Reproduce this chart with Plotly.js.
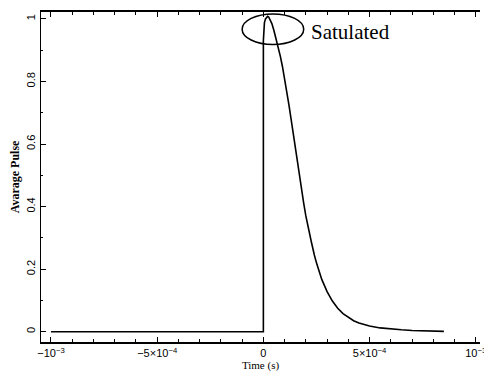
<!DOCTYPE html>
<html><head><meta charset="utf-8">
<script src="https://cdn.plot.ly/plotly-3.0.1.min.js"></script>
<style>html,body{margin:0;padding:0;background:#fff}#c{width:484px;height:373px}</style>
</head><body><div id="c"></div>
<script>
var timeS = [-1e-3, 0, 0, 0.000002, 0.000005, 0.00001, 0.000015, 0.00002, 0.000025, 0.00003, 0.00004, 0.00005, 0.00006, 0.00007, 0.00008, 0.00009, 0.0001, 0.00011, 0.00012, 0.00013, 0.00014, 0.00015, 0.00016, 0.00017, 0.00018, 0.00019, 0.0002, 0.00021, 0.000225, 0.00024, 0.00025, 0.000275, 0.0003, 0.000325, 0.00035, 0.000375, 0.0004, 0.000425, 0.00045, 0.000475, 0.0005, 0.00055, 0.0006, 0.00065, 0.0007, 0.00077, 0.00085];
var avgPulse = [0, 0, 0.93, 0.965, 0.988, 1.0, 1.006, 1.008, 1.006, 1.0, 0.985, 0.962, 0.937, 0.91, 0.88, 0.847, 0.81, 0.77, 0.727, 0.682, 0.635, 0.585, 0.535, 0.49, 0.45, 0.41, 0.37, 0.335, 0.29, 0.245, 0.22, 0.167, 0.128, 0.098, 0.075, 0.058, 0.045, 0.035, 0.028, 0.022, 0.018, 0.012, 0.008, 0.006, 0.004, 0.002, 0.001];
var xTickVals = [-1e-3, -5e-4, 0, 5e-4, 1e-3];
var xTickText = ['−10<sup>−3</sup>', '−5×10<sup>−4</sup>', '0', '5×10<sup>−4</sup>', '10<sup>−3</sup>'];
var yTickVals = [0, 0.2, 0.4, 0.6, 0.8, 1];
var yTickText = ['0', '0.2', '0.4', '0.6', '0.8', '1'];

var serif = '"Liberation Serif", "Times New Roman", serif';
var sans = '"Liberation Sans", Arial, sans-serif';

Plotly.newPlot('c', [{
  x: timeS, y: avgPulse, type: 'scatter', mode: 'lines',
  line: {color: '#000', width: 1.6}, hoverinfo: 'skip'
}], {
  width: 484, height: 373,
  margin: {l: 41, r: 4, t: 12, b: 31},
  paper_bgcolor: '#fff', plot_bgcolor: '#fff',
  showlegend: false,
  font: {family: sans, size: 11, color: '#000'},
  xaxis: {
    range: [-1.047e-3, 1.02e-3], showgrid: false, zeroline: false,
    showline: true, linecolor: '#000', linewidth: 2, mirror: 'ticks',
    ticks: 'inside', ticklen: 5, tickwidth: 1, tickcolor: '#000',
    tickvals: xTickVals, ticktext: xTickText, ticklabeloverflow: 'allow',
    minor: {dtick: 1e-4, tick0: 0, ticks: 'inside', ticklen: 3, tickcolor: '#000'},
    tickfont: {size: 11, family: sans},
    title: {text: 'Time (s)', font: {size: 11, family: serif}, standoff: 2}
  },
  yaxis: {
    range: [-0.033, 1.022], showgrid: false, zeroline: false,
    showline: true, linecolor: '#000', linewidth: 1.5,
    ticks: 'inside', ticklen: 5, tickwidth: 1, tickcolor: '#000',
    tickvals: yTickVals, ticktext: yTickText, tickangle: -90,
    minor: {dtick: 0.1, tick0: 0, ticks: 'inside', ticklen: 2, tickcolor: '#000'},
    tickfont: {size: 11, family: sans},
    title: {text: '<b>Avarage Pulse</b>', font: {size: 12, family: serif}, standoff: 3}
  },
  shapes: [{
    type: 'circle', xref: 'x', yref: 'y',
    x0: -1.0e-4, x1: 1.9e-4, y0: 0.918, y1: 1.016,
    line: {color: '#000', width: 1.5}
  }],
  annotations: [{
    text: 'Satulated', xref: 'x', yref: 'y', x: 2.15e-4, y: 0.957,
    xanchor: 'left', yanchor: 'middle', showarrow: false,
    font: {family: serif, size: 21, color: '#000'}
  }]
}, {staticPlot: true});
</script></body></html>
